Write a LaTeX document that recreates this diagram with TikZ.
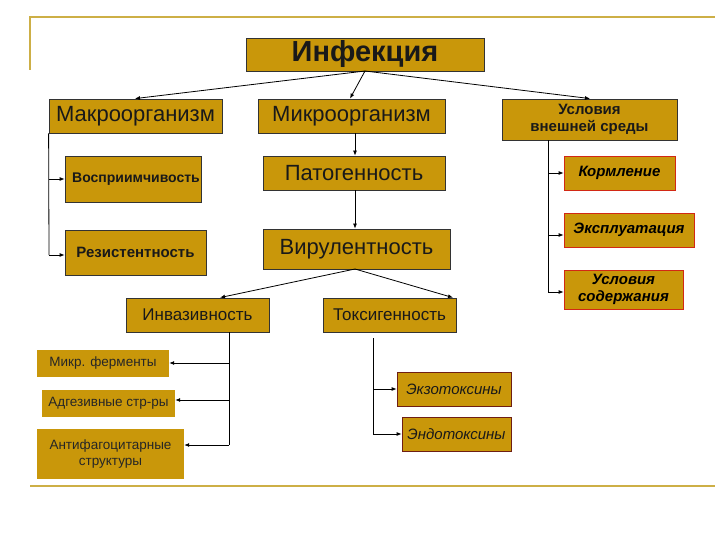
\documentclass[tikz,border=0pt]{standalone}
\usepackage{fontspec}
\setmainfont{Liberation Sans}
\usetikzlibrary{arrows.meta}
\definecolor{gold}{RGB}{201,151,10}
\definecolor{frame}{RGB}{205,175,70}
\definecolor{redb}{RGB}{210,40,20}
\definecolor{brb}{RGB}{110,30,20}
\begin{document}
\begin{tikzpicture}[x=1pt,y=-1pt,
  bx/.style={draw=black!80,line width=0.8pt,fill=gold,inner sep=0pt,align=center,text=black!90},
  nb/.style={fill=gold,inner sep=0pt,align=center,text=black!85},
  rb/.style={draw=redb,line width=0.8pt,fill=gold,inner sep=0pt,align=center,font=\bfseries\itshape\fontsize{15}{17}\selectfont},
  ar/.style={-{Latex[length=5pt,width=4pt]},line width=0.8pt},
  ln/.style={line width=0.8pt}]
\useasboundingbox (0,0) rectangle (720,540);
\draw[frame,line width=2pt] (30,70) -- (30,17) -- (715,17);
\draw[frame,line width=2pt] (30,486) -- (715,486);
\def\bnode#1#2#3#4#5#6#7{\node[#2,minimum width=#5-#3,minimum height=#6-#4] (#1) at ({(#3+#5)/2},{(#4+#6)/2}) {#7};}
\bnode{inf}{bx,font=\bfseries\fontsize{29}{32}\selectfont}{246}{38}{484}{71}{Инфекция}
\bnode{mac}{bx,font=\fontsize{22}{24}\selectfont}{49}{99}{222}{133}{Макроорганизм}
\bnode{mic}{bx,font=\fontsize{22}{24}\selectfont}{258}{99}{445}{133}{Микроорганизм}
\bnode{usl}{bx,font=\bfseries\fontsize{15}{17}\selectfont}{502}{99}{677}{140}{Условия\\внешней среды}
\bnode{vos}{bx,font=\bfseries\fontsize{14}{16}\selectfont}{65}{156}{201}{202}{\hspace*{-4pt}Восприимчивость\hspace*{-10pt}}
\bnode{pat}{bx,font=\fontsize{22}{24}\selectfont}{263}{156}{445}{190}{Патогенность}
\bnode{rez}{bx,font=\bfseries\fontsize{15}{17}\selectfont}{65}{230}{206}{275}{Резистентность}
\bnode{vir}{bx,font=\fontsize{22}{24}\selectfont}{263}{229}{450}{269}{Вирулентность}
\bnode{kor}{rb}{564}{156}{675}{190}{Кормление}
\bnode{eks}{rb}{564}{213}{694}{247}{\hspace*{-6pt}Эксплуатация\hspace*{-6pt}}
\bnode{sod}{rb}{564}{270}{683}{309}{Условия\\содержания}
\bnode{inv}{bx,font=\fontsize{17}{19}\selectfont}{126}{298}{269}{332}{Инвазивность}
\bnode{tox}{bx,font=\fontsize{17}{19}\selectfont}{323}{298}{456}{332}{Токсигенность}
\bnode{fer}{nb,font=\fontsize{13.5}{15}\selectfont}{37}{350}{169}{377}{Микр. ферменты}
\bnode{adg}{nb,font=\fontsize{13.5}{15}\selectfont}{42}{390}{175}{417}{Адгезивные стр-ры}
\bnode{ant}{nb,font=\fontsize{13.5}{16}\selectfont}{37}{429}{184}{479}{Антифагоцитарные\\структуры}
\bnode{ekz}{bx,draw=brb,font=\itshape\fontsize{15}{17}\selectfont}{397}{372}{511}{406}{Экзотоксины}
\bnode{end}{bx,draw=brb,font=\itshape\fontsize{15}{17}\selectfont}{402}{417}{511}{451}{Эндотоксины}
\coordinate (io) at (365,71);
\draw[ar] (io) -- (mac.north -| 135,0);
\draw[ar] (io) -- (mic.north -| 350,0);
\draw[ar] (io) -- (usl.north -| 590,0);
\draw[ln] (mac.south west) -- (49,255);
\draw[ar] (49,179) -- (vos.west);
\draw[ar] (49,255) -- (rez.west |- 0,255);
\draw[ar] (mic.south -| 355,0) -- (pat.north -| 355,0);
\draw[ar] (pat.south -| 355,0) -- (vir.north -| 355,0);
\coordinate (vo) at (355,269);
\draw[ar] (vo) -- (inv.north -| 220,0);
\draw[ar] (vo) -- (tox.north -| 453,0);
\draw[ln] (usl.south -| 548,0) -- (548,292);
\draw[ar] (548,173) -- (kor.west);
\draw[ar] (548,235) -- (eks.west |- 0,235);
\draw[ar] (548,292) -- (sod.west |- 0,292);
\draw[ln] (inv.south -| 229,0) -- (229,445);
\draw[ar] (229,363) -- (fer.east |- 0,363);
\draw[ar] (229,400) -- (adg.east |- 0,400);
\draw[ar] (229,445) -- (ant.east |- 0,445);
\draw[ln] (373,338) -- (373,434);
\draw[ar] (373,389) -- (ekz.west);
\draw[ar] (373,434) -- (end.west);
\end{tikzpicture}
\end{document}
